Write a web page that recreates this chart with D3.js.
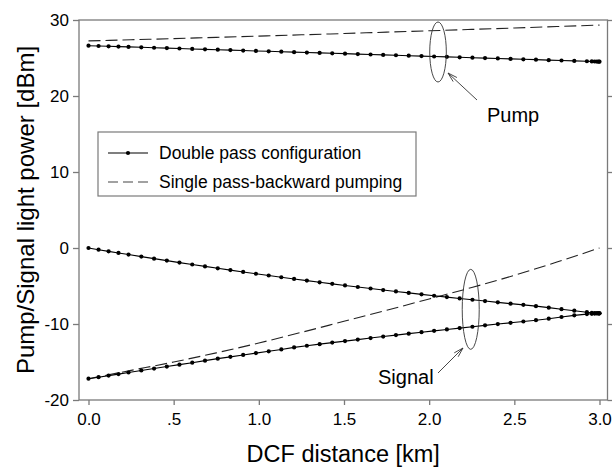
<!DOCTYPE html>
<html>
<head>
<meta charset="utf-8">
<script src="https://cdn.jsdelivr.net/npm/d3@7"></script>
<style>
  html, body { margin: 0; padding: 0; background: #fff; }
  svg { display: block; font-family: "Liberation Sans", Arial, Helvetica, sans-serif; }
</style>
</head>
<body>
<svg id="chart" width="612" height="469"></svg>
<script>
// ---------------- DATA ----------------
const distance = [0, 0.059, 0.118, 0.176, 0.235, 0.310, 0.385, 0.460, 0.534, 0.609,
  0.684, 0.759, 0.833, 0.908, 0.983, 1.058, 1.132, 1.207, 1.282, 1.357,
  1.431, 1.506, 1.581, 1.656, 1.730, 1.805, 1.880, 1.955, 2.029, 2.104,
  2.179, 2.254, 2.328, 2.403, 2.478, 2.553, 2.627, 2.702, 2.777, 2.852,
  2.926, 2.955, 2.972, 2.985, 2.995, 3.000];

// Double pass configuration
const pumpDouble = [26.62, 26.58, 26.54, 26.50, 26.46, 26.41, 26.35, 26.30, 26.25, 26.19,
  26.14, 26.09, 26.04, 25.98, 25.93, 25.88, 25.83, 25.77, 25.72, 25.67,
  25.62, 25.57, 25.51, 25.46, 25.41, 25.36, 25.30, 25.25, 25.20, 25.15,
  25.09, 25.04, 24.99, 24.94, 24.88, 24.83, 24.78, 24.72, 24.67, 24.62,
  24.57, 24.55, 24.54, 24.53, 24.52, 24.52];

const signalDoubleA = [0.00, -0.22, -0.44, -0.65, -0.86, -1.13, -1.40, -1.66, -1.92, -2.17,
  -2.42, -2.67, -2.91, -3.15, -3.39, -3.62, -3.85, -4.07, -4.29, -4.51,
  -4.72, -4.93, -5.13, -5.33, -5.53, -5.72, -5.91, -6.10, -6.28, -6.46,
  -6.64, -6.81, -6.98, -7.15, -7.32, -7.48, -7.65, -7.85, -8.05, -8.25,
  -8.45, -8.52, -8.56, -8.58, -8.60, -8.60];

const signalDoubleB = [-17.20, -17.00, -16.79, -16.59, -16.38, -16.12, -15.86, -15.60, -15.35, -15.09,
  -14.82, -14.56, -14.32, -14.07, -13.83, -13.59, -13.35, -13.08, -12.86, -12.65,
  -12.45, -12.25, -12.05, -11.85, -11.65, -11.46, -11.27, -11.08, -10.90, -10.72,
  -10.54, -10.36, -10.18, -10.01, -9.84, -9.67, -9.50, -9.30, -9.08, -8.86,
  -8.70, -8.66, -8.63, -8.62, -8.61, -8.60];

// Single pass - backward pumping
const distanceSingle = [0, 0.25, 0.5, 0.75, 1.0, 1.25, 1.5, 1.75, 2.0, 2.25, 2.5, 2.75, 3.0];
const pumpSingle   = [27.25, 27.40, 27.55, 27.72, 27.88, 28.05, 28.22, 28.40, 28.58, 28.76, 28.95, 29.14, 29.33];
const signalSingle = [-17.2, -16.1, -15.0, -13.8, -12.5, -11.1, -9.65, -8.2, -6.7, -5.2, -3.6, -1.85, 0.0];

const xTicks = [0, 0.5, 1.0, 1.5, 2.0, 2.5, 3.0];
const xTickLabels = ["0.0", ".5", "1.0", "1.5", "2.0", "2.5", "3.0"];
const yTicks = [-20, -10, 0, 10, 20, 30];
const yTickLabels = ["-20", "-10", "0", "10", "20", "30"];

const legendLabels = ["Double pass configuration", "Single pass-backward pumping"];
const xTitle = "DCF distance [km]";
const yTitle = "Pump/Signal light power [dBm]";

// ---------------- LAYOUT ----------------
const svg = d3.select("#chart");
const frame = { left: 79, right: 607.5, top: 20, bottom: 400 };
const x = d3.scaleLinear().domain([0, 3]).range([88.5, 599.5]);
const y = d3.scaleLinear().domain([-20, 30]).range([400, 20]);
const axisColor = "#7a7a7a";
const FONT = "Liberation Sans, Arial, sans-serif";

// frame
svg.append("rect")
  .attr("x", frame.left).attr("y", frame.top)
  .attr("width", frame.right - frame.left).attr("height", frame.bottom - frame.top)
  .attr("fill", "none").attr("stroke", axisColor).attr("stroke-width", 1.3);

// axes
const xAxis = d3.axisBottom(x).tickValues(xTicks)
  .tickFormat((d, i) => xTickLabels[i]).tickSize(5).tickPadding(8);
const gx = svg.append("g").attr("transform", `translate(0,${frame.bottom})`).call(xAxis);
gx.select(".domain").remove();
gx.selectAll("line").attr("stroke", axisColor).attr("stroke-width", 1.3);
gx.selectAll("text").attr("font-size", 17).attr("fill", "#000").attr("font-family", FONT);

const yAxis = d3.axisLeft(y).tickValues(yTicks)
  .tickFormat((d, i) => yTickLabels[i]).tickSize(6).tickPadding(4);
const gy = svg.append("g").attr("transform", `translate(${frame.left},0)`).call(yAxis);
gy.select(".domain").remove();
gy.selectAll("line").attr("stroke", axisColor).attr("stroke-width", 1.3);
gy.selectAll("text").attr("font-size", 17).attr("fill", "#000").attr("font-family", FONT);

const yAxisR = d3.axisRight(y).tickValues(yTicks).tickFormat("").tickSize(5);
const gyr = svg.append("g").attr("transform", `translate(${frame.right},0)`).call(yAxisR);
gyr.select(".domain").remove();
gyr.selectAll("line").attr("stroke", axisColor).attr("stroke-width", 1.3);

// titles
svg.append("text").attr("x", (frame.left + frame.right) / 2).attr("y", 462)
  .attr("text-anchor", "middle").attr("font-size", 23.5).text(xTitle);
svg.append("text").attr("transform", `translate(33.5,${(frame.top + frame.bottom) / 2}) rotate(-90)`)
  .attr("text-anchor", "middle").attr("font-size", 24).text(yTitle);

// ---------------- SERIES ----------------
const line = d3.line().x(d => x(d[0])).y(d => y(d[1]));
const smooth = d3.line().x(d => x(d[0])).y(d => y(d[1])).curve(d3.curveMonotoneX);

const dashed = [pumpSingle, signalSingle];
dashed.forEach(vals => {
  svg.append("path").datum(distanceSingle.map((d, i) => [d, vals[i]]))
    .attr("d", smooth).attr("fill", "none").attr("stroke", "#222")
    .attr("stroke-width", 1.1).attr("stroke-dasharray", "12,5");
});

const doubles = [pumpDouble, signalDoubleA, signalDoubleB];
doubles.forEach(vals => {
  const pts = distance.map((d, i) => [d, vals[i]]);
  svg.append("path").datum(pts).attr("d", line)
    .attr("fill", "none").attr("stroke", "#000").attr("stroke-width", 1.1);
  svg.append("g").selectAll("circle").data(pts).join("circle")
    .attr("cx", d => x(d[0])).attr("cy", d => y(d[1])).attr("r", 2.1)
    .attr("fill", "#000");
});

// ---------------- ANNOTATIONS ----------------
function arrow(x1, y1, x2, y2) {
  const g = svg.append("g").attr("stroke", "#333").attr("stroke-width", 0.9).attr("fill", "none");
  g.append("line").attr("x1", x1).attr("y1", y1).attr("x2", x2).attr("y2", y2);
  const ang = Math.atan2(y2 - y1, x2 - x1);
  const L = 10, w = 0.28;
  [ang + Math.PI - w, ang + Math.PI + w].forEach(a => {
    g.append("line").attr("x1", x2).attr("y1", y2)
      .attr("x2", x2 + L * Math.cos(a)).attr("y2", y2 + L * Math.sin(a));
  });
}

// Pump ellipse + arrow + label
svg.append("ellipse").attr("cx", x(2.052)).attr("cy", y(25.79)).attr("rx", 8.3).attr("ry", 30)
  .attr("fill", "none").attr("stroke", "#333").attr("stroke-width", 0.9);
arrow(477, 100, 448, 73);
svg.append("text").attr("x", 487).attr("y", 122).attr("font-size", 20).text("Pump");

// Signal ellipse + arrow + label
svg.append("ellipse").attr("cx", x(2.244)).attr("cy", y(-8.07)).attr("rx", 8.5).attr("ry", 40)
  .attr("fill", "none").attr("stroke", "#333").attr("stroke-width", 0.9);
arrow(438, 373, 463, 348);
svg.append("text").attr("x", 378).attr("y", 384).attr("font-size", 20).text("Signal");

// ---------------- LEGEND ----------------
const lg = svg.append("g");
lg.append("rect").attr("x", 98).attr("y", 132).attr("width", 318).attr("height", 64)
  .attr("fill", "#fff").attr("stroke", axisColor).attr("stroke-width", 1.2);
lg.append("line").attr("x1", 108).attr("x2", 148).attr("y1", 153).attr("y2", 153)
  .attr("stroke", "#000").attr("stroke-width", 1.1);
lg.append("circle").attr("cx", 128).attr("cy", 153).attr("r", 2.1).attr("fill", "#000");
lg.append("line").attr("x1", 108).attr("x2", 148).attr("y1", 182).attr("y2", 182)
  .attr("stroke", "#444").attr("stroke-width", 1.1).attr("stroke-dasharray", "10,5");
lg.append("text").attr("x", 159).attr("y", 159).attr("font-size", 17.5).text(legendLabels[0]);
lg.append("text").attr("x", 159).attr("y", 188).attr("font-size", 17.5).text(legendLabels[1]);
</script>
</body>
</html>
